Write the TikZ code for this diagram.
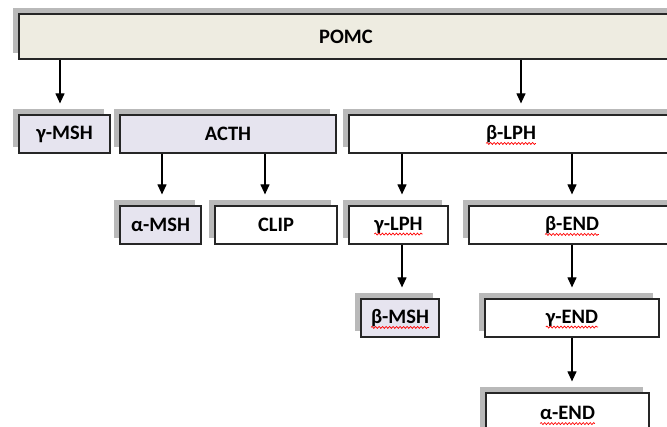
\documentclass[tikz,border=0pt]{standalone}
\usepackage{fontspec}
\setmainfont{Carlito}
\usetikzlibrary{arrows.meta,shadows,decorations.pathmorphing}

\definecolor{pomcfill}{HTML}{EEECE1}
\definecolor{lilac}{HTML}{E6E4EF}
\definecolor{shade}{HTML}{B9B9B9}

\newcommand{\boxfont}{\bfseries\fontsize{20.5}{23}\selectfont}
\newlength{\spellw}

\begin{document}
\begin{tikzpicture}[x=1pt,y=-1pt,
	box/.style={draw=black!85, line width=1.2pt, minimum height=38pt, inner sep=0pt, font=\boxfont,
		drop shadow={shadow xshift=-6pt, shadow yshift=6pt, fill=shade, opacity=1}},
	arr/.style={-{Triangle[width=9pt,length=10pt]}, line width=1.1pt, shorten >=11pt},
	wavy/.style={red, line width=.7pt, decorate, decoration={snake, amplitude=1pt, segment length=3.5pt}}]
\useasboundingbox (0,0) rectangle (667,426);

\node[box, fill=pomcfill, minimum width=654pt, minimum height=45pt] (pomc) at (346,36.5) {POMC};

\node[box, fill=lilac, minimum width=91pt]  (gmsh) at (64.5,134) {γ-MSH};
\node[box, fill=lilac, minimum width=216pt] (acth) at (228,134) {ACTH};
\node[box, fill=white, minimum width=324pt] (blph) at (511,134) {β-LPH};

\node[box, fill=lilac, minimum width=81pt]  (amsh) at (160.5,225) {α-MSH};
\node[box, fill=white, minimum width=122pt] (clip) at (276,225) {CLIP};
\node[box, fill=white, minimum width=99pt]  (glph) at (398.5,225) {γ-LPH};
\node[box, fill=white, minimum width=206pt] (bend) at (572,225) {β-END};

\node[box, fill=lilac, minimum width=78pt]  (bmsh) at (400,318) {β-MSH};
\node[box, fill=white, minimum width=174pt] (gend) at (572,318) {γ-END};

\node[box, fill=white, minimum width=163pt, minimum height=40pt] (aend) at (567.5,413) {α-END};

% cleavage arrows
\foreach \from/\to/\x in {pomc/gmsh/60, pomc/blph/521, acth/amsh/162, acth/clip/265,
		blph/glph/402, blph/bend/572, glph/bmsh/402, bend/gend/572, gend/aend/572}
	\draw[arr] (\from.south -| \x,0) -- (\to.north -| \x,0);

% spelling marks under the labels
\foreach \n/\t in {blph/β-LPH, glph/γ-LPH, bend/β-END, bmsh/β-MSH, gend/γ-END, aend/α-END}{
	\pgftext{\global\setbox1=\hbox{\boxfont\t}}
	\pgfmathsetlengthmacro{\hw}{.5*\wd1}
	\draw[wavy] (\n.base) ++(-\hw,4) -- ++(2*\hw,0);
}
\end{tikzpicture}
\end{document}
